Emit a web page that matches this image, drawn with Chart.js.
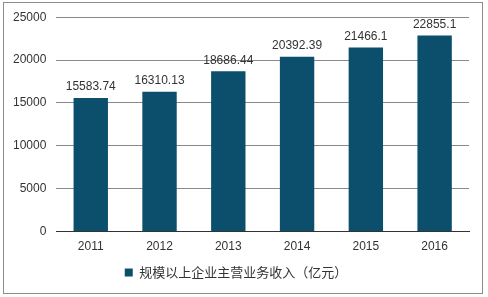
<!DOCTYPE html>
<html>
<head>
<meta charset="utf-8">
<script src="https://cdn.jsdelivr.net/npm/chart.js@4/dist/chart.umd.min.js"></script>
<style>
  html, body { margin: 0; padding: 0; background: #fff; }
  #wrap { width: 488px; height: 297px; }
</style>
</head>
<body>
<div id="wrap"><canvas id="myChart"></canvas></div>
<script>
const years = ['2011', '2012', '2013', '2014', '2015', '2016'];
const revenue = [15583.74, 16310.13, 18686.44, 20392.39, 21466.1, 22855.1];
const revenueText = ['15583.74', '16310.13', '18686.44', '20392.39', '21466.1', '22855.1'];
const seriesName = '规模以上企业主营业务收入（亿元）';

const fontFam = '"Liberation Sans", Arial, "Noto Sans CJK SC", sans-serif';

// frame around the whole picture
const framePlugin = {
    id: 'frame',
    beforeDraw(chart) {
        let c = chart.ctx;
        c.save();
        c.fillStyle = '#fff';
        c.fillRect(0, 0, chart.width, chart.height);
        c.strokeStyle = '#8c8c8c';
        c.lineWidth = 1;
        c.strokeRect(3.5, 2.5, 479, 291);
        c.restore();
    }
};

// value labels above bars
const valuePlugin = {
    id: 'values',
    afterDatasetsDraw(chart) {
        let c = chart.ctx;
        let meta = chart.getDatasetMeta(0);
        c.save();
        c.font = '12px ' + fontFam;
        c.fillStyle = '#333';
        c.textAlign = 'center';
        c.textBaseline = 'bottom';
        meta.data.forEach((bar, i) => {
            c.fillText(revenueText[i], bar.x, bar.y - 5);
        });
        c.restore();
    }
};

new Chart(document.getElementById('myChart'), {
    type: 'bar',
    data: {
        labels: years,
        datasets: [{
            label: seriesName,
            data: revenue,
            backgroundColor: '#0b4f6c',
            categoryPercentage: 1,
            barPercentage: 0.5
        }]
    },
    options: {
        responsive: true,
        maintainAspectRatio: false,
        animation: false,
        layout: {
            padding: { left: 3, right: 19, top: 9, bottom: 8 }
        },
        plugins: {
            legend: {
                position: 'bottom',
                labels: {
                    boxWidth: 8,
                    boxHeight: 8,
                    color: '#333',
                    font: { size: 13, family: '"Noto Sans CJK SC", sans-serif' },
                    padding: 12
                }
            },
            tooltip: { enabled: false }
        },
        scales: {
            y: {
                min: 0,
                max: 25000,
                ticks: {
                    stepSize: 5000,
                    color: '#333',
                    padding: 10,
                    font: { size: 12, family: fontFam },
                    callback: (v) => String(v)
                },
                grid: {
                    color: '#8a8a8a',
                    drawTicks: false
                },
                border: { display: false }
            },
            x: {
                ticks: {
                    color: '#333',
                    padding: 0,
                    font: { size: 12, family: fontFam }
                },
                grid: { display: false },
                border: { display: true, color: '#333' }
            }
        }
    },
    plugins: [framePlugin, valuePlugin]
});
</script>
</body>
</html>
